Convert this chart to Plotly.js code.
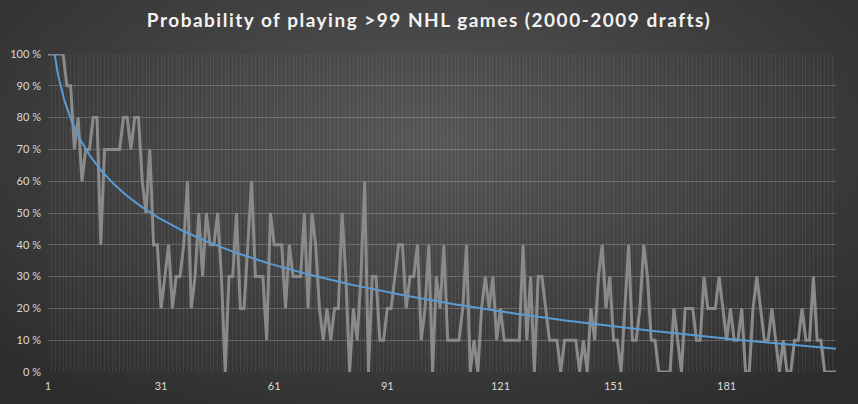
<!DOCTYPE html>
<html>
<head>
<meta charset="utf-8">
<script src="https://cdn.plot.ly/plotly-3.0.1.min.js"></script>
<style>
  html, body { margin: 0; padding: 0; }
  body {
    width: 858px; height: 404px; overflow: hidden;
    background: radial-gradient(ellipse 70% 80% at 50% 35%, #565656 0%, #434343 45%, #2c2c2c 100%);
  }
  #chart { width: 858px; height: 404px; }
  .gtitle { letter-spacing: 1.5px; }
</style>
</head>
<body>
<div id="chart"></div>
<script>
// share of the 10 players taken at each pick (2000-2009) who reached 100+ NHL games, in %
var pickValues = [
	100, 100, 100, 100, 100, 90, 90, 70, 80, 60,
	70, 70, 80, 80, 40, 70, 70, 70, 70, 70,
	80, 80, 70, 80, 80, 60, 50, 70, 40, 40,
	20, 30, 40, 20, 30, 30, 40, 60, 20, 30,
	50, 30, 50, 40, 40, 50, 30, 0, 30, 30,
	50, 20, 20, 40, 60, 30, 30, 30, 10, 50,
	40, 40, 40, 20, 40, 30, 30, 30, 50, 20,
	50, 40, 20, 10, 20, 10, 20, 20, 50, 30,
	0, 20, 10, 30, 60, 0, 30, 30, 10, 10,
	20, 20, 30, 40, 40, 20, 30, 30, 40, 10,
	20, 40, 0, 30, 20, 40, 10, 10, 10, 10,
	20, 40, 0, 10, 0, 20, 30, 20, 30, 10,
	20, 10, 10, 10, 10, 10, 40, 10, 30, 0,
	30, 30, 20, 10, 10, 10, 0, 10, 10, 10,
	10, 0, 10, 0, 20, 10, 30, 40, 20, 30,
	10, 10, 0, 20, 40, 10, 10, 20, 40, 30,
	10, 10, 0, 0, 0, 0, 20, 10, 0, 20,
	20, 20, 10, 10, 30, 20, 20, 20, 30, 20,
	10, 20, 10, 10, 20, 0, 0, 20, 30, 20,
	10, 10, 20, 10, 0, 10, 0, 0, 10, 10,
	20, 10, 10, 30, 10, 10, 0, 0, 0, 0
];
var picks = pickValues.map((v, i) => i + 1);
var xTickVals = [1, 31, 61, 91, 121, 151, 181];

// logarithmic trendline fitted to the picks, as Excel does it
var sL = 0, sY = 0, sLY = 0, sLL = 0, n = picks.length;
picks.forEach((p, i) => {
	var l = Math.log(p);
	sL += l; sY += pickValues[i]; sLY += l * pickValues[i]; sLL += l * l;
});
var slope = (n * sLY - sL * sY) / (n * sLL - sL * sL);
var icept = (sY - slope * sL) / n;
var trendX = [];
for (var t = 1; t <= n; t += 0.25) trendX.push(t);
var trendY = trendX.map(t => icept + slope * Math.log(t));

var tickFont = {family: 'Lato, "Open Sans", sans-serif', size: 11, color: '#d9d9d9'};

var data = [
	{
		type: 'scatter',
		mode: 'lines',
		x: picks,
		y: pickValues,
		line: {color: '#8a8a8a', width: 3},
		hoverinfo: 'x+y'
	},
	{
		type: 'scatter',
		mode: 'lines',
		x: trendX,
		y: trendY,
		line: {color: '#5b9bd5', width: 2},
		hoverinfo: 'skip'
	}
];

var layout = {
	width: 858,
	height: 404,
	paper_bgcolor: 'rgba(0,0,0,0)',
	plot_bgcolor: 'rgba(0,0,0,0)',
	showlegend: false,
	margin: {l: 48, r: 22, t: 54, b: 32},
	title: {
		text: 'Probability of playing >99 NHL games (2000-2009 drafts)',
		font: {family: 'Lato, "Open Sans", sans-serif', size: 19, color: '#f2f2f2', weight: 'bold'},
		x: 0.5, xanchor: 'center',
		y: 0.95, yanchor: 'middle', yref: 'container'
	},
	xaxis: {
		range: [1, n],
		tickvals: xTickVals,
		showgrid: false,
		zeroline: false,
		showline: false,
		ticks: '',
		ticklabelstandoff: 6,
		tickfont: tickFont,
		minor: {tick0: 1, dtick: 1, showgrid: true, gridcolor: 'rgba(255,255,255,0.07)', gridwidth: 1}
	},
	yaxis: {
		range: [0, 100],
		dtick: 10,
		ticksuffix: ' %',
		showgrid: true,
		gridcolor: 'rgba(255,255,255,0.2)',
		gridwidth: 1,
		zeroline: false,
		showline: false,
		ticks: '',
		ticklabelstandoff: 6,
		tickfont: tickFont
	}
};

Plotly.newPlot('chart', data, layout, {displayModeBar: false, staticPlot: true});
</script>
</body>
</html>
